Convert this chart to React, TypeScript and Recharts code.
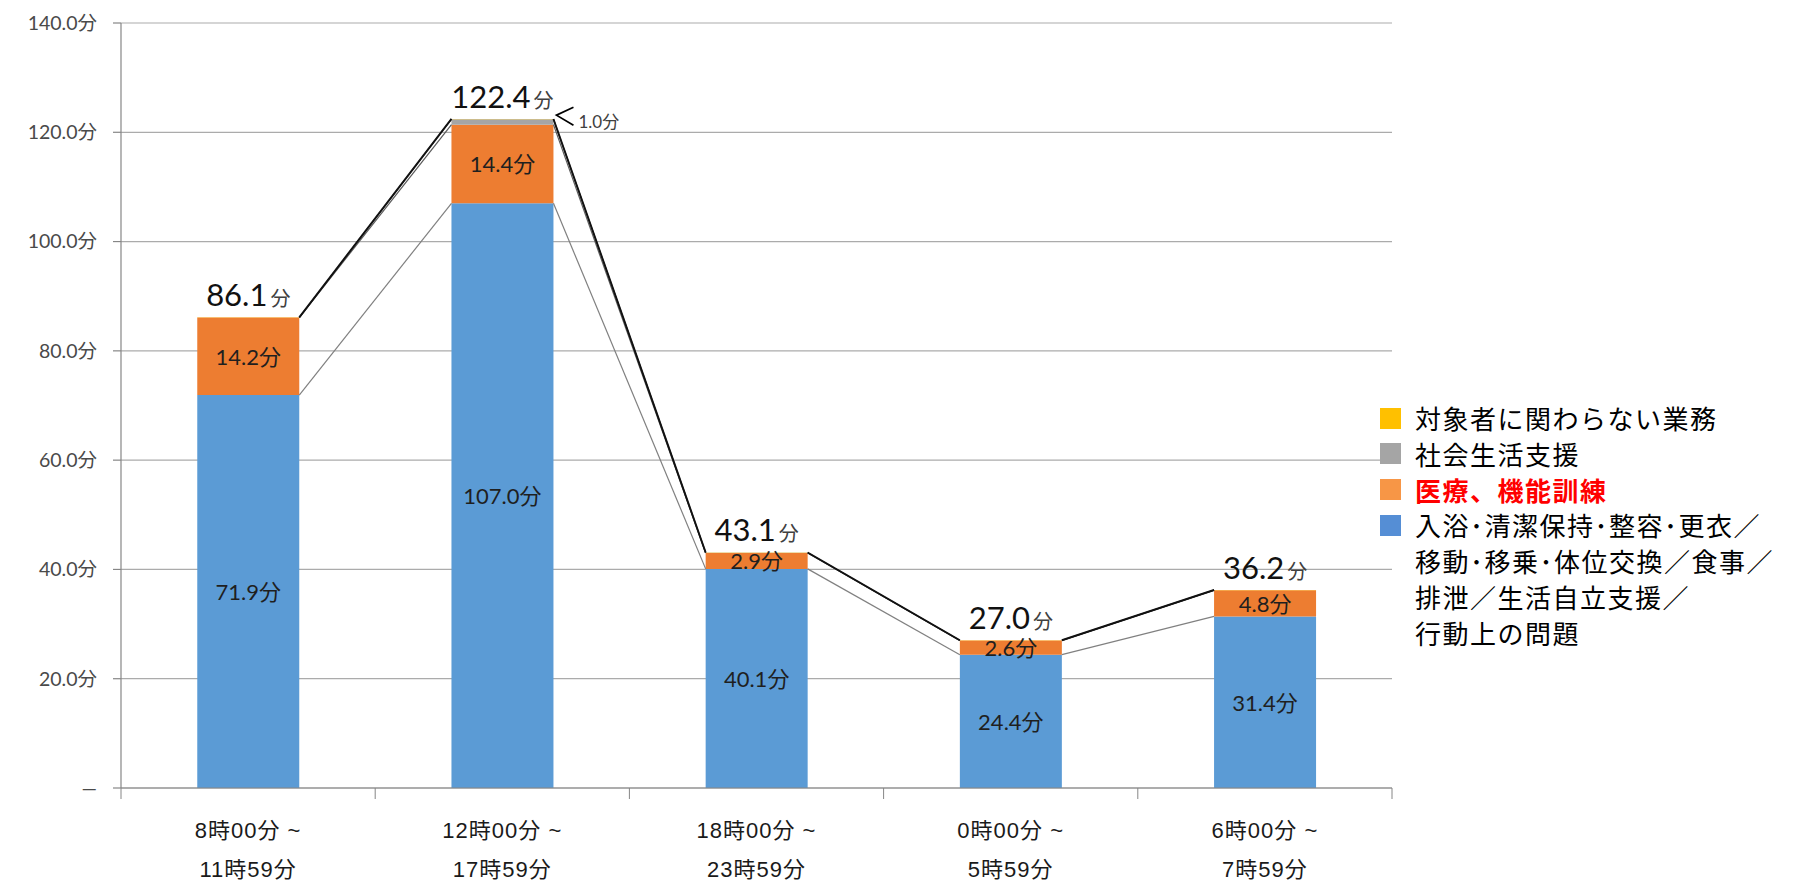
import React from "react";
import {
  BarChart,
  Bar,
  XAxis,
  YAxis,
  CartesianGrid,
  LabelList,
  Rectangle,
} from "recharts";

// time slots (two-line axis labels)
const periodStart = ["8時00分 ~", "12時00分 ~", "18時00分 ~", "0時00分 ~", "6時00分 ~"];
const periodEnd = ["11時59分", "17時59分", "23時59分", "5時59分", "7時59分"];

// minutes per slot, bottom to top of the stack
const careValues = [71.9, 107.0, 40.1, 24.4, 31.4];
const medicalValues = [14.2, 14.4, 2.9, 2.6, 4.8];
const socialValues = [0.0, 1.0, 0.06, 0.0, 0.0];
const otherValues = [0.04, 0.04, 0.04, 0.04, 0.04];

const yTicks = [0, 20, 40, 60, 80, 100, 120, 140];
const Y_MAX = 140;

const legendItems = [
  { label: ["対象者に関わらない業務"], color: "#FFC000" },
  { label: ["社会生活支援"], color: "#A5A5A5" },
  { label: ["医療、機能訓練"], color: "#F79646", strong: true },
  {
    label: [
      "入浴･清潔保持･整容･更衣／",
      "移動･移乗･体位交換／食事／",
      "排泄／生活自立支援／",
      "行動上の問題",
    ],
    color: "#558ED5",
  },
];

const BLUE = "#5B9BD5";
const ORANGE = "#ED7D31";
const GREY = "#A5A5A5";
const YELLOW = "#FFC000";
const AXIS = "#868686";
const GRID = "#ABABAB";
const NUM_FONT = "Lato, 'Noto Sans CJK JP', sans-serif";
const CJK_FONT = "'Noto Sans CJK JP', sans-serif";

const data = periodStart.map((p, i) => ({
  period: p,
  care: careValues[i],
  medical: medicalValues[i],
  social: socialValues[i],
  other: otherValues[i],
}));

// cumulative top of each stacked segment, per slot
const levels = data.map((d) => {
  const a = d.care;
  const b = a + d.medical;
  const c = b + d.social;
  return [a, b, c, c + d.other];
});
const totals = levels.map((l) => l[3]);

const seriesLineStyle = [
  { stroke: "#808080", width: 1.2 },
  { stroke: "#5a5a5a", width: 1.2 },
  { stroke: "#404040", width: 1.3 },
  { stroke: "#111111", width: 1.9 },
];

// edges of the stacks already drawn, so each stack can link back to the previous one
const stackEdges: { left: number; right: number }[] = [];

function TopSegment(props: any) {
  const { x, y, width, height, index, background, fill } = props;
  stackEdges[index] = { left: x, right: x + width };
  const prev = stackEdges[index - 1];
  const plotTop = background?.y ?? 0;
  const plotH = background?.height ?? 0;
  const yOf = (v: number) => plotTop + plotH * (1 - v / Y_MAX);
  return (
    <g>
      <Rectangle x={x} y={y} width={width} height={height} fill={fill} />
      {index > 0 && prev && plotH > 0 &&
        seriesLineStyle.map((s, k) => (
          <line
            key={k}
            x1={prev.right}
            y1={yOf(levels[index - 1][k])}
            x2={x}
            y2={yOf(levels[index][k])}
            stroke={s.stroke}
            strokeWidth={s.width}
          />
        ))}
    </g>
  );
}

function PeriodTick(props: any) {
  const { x, y, index, payload } = props;
  const half = payload?.offset ?? 0;
  const last = index === periodStart.length - 1;
  const textStyle = {
    fontFamily: "'Liberation Sans', 'Noto Sans CJK JP', sans-serif",
    fontSize: 22,
    fill: "#1a1a1a",
    letterSpacing: 1,
  };
  return (
    <g>
      <line x1={x - half} y1={y} x2={x - half} y2={y + 11} stroke={AXIS} />
      {last && <line x1={x + half} y1={y} x2={x + half} y2={y + 11} stroke={AXIS} />}
      <text x={x} y={y + 42} textAnchor="middle" dominantBaseline="central" {...textStyle}>
        {periodStart[index]}
      </text>
      <text x={x} y={y + 81} textAnchor="middle" dominantBaseline="central" {...textStyle}>
        {periodEnd[index]}
      </text>
    </g>
  );
}

function InsideLabel(props: any) {
  const { x, y, width, height, value } = props;
  return (
    <text
      x={x + width / 2}
      y={y + height / 2}
      textAnchor="middle"
      dominantBaseline="central"
      fontFamily={NUM_FONT}
      fontSize={22}
      fill="#1f1f1f"
    >
      {`${Number(value).toFixed(1)}分`}
    </text>
  );
}

function TotalLabel(props: any) {
  const { x, y, width, index } = props;
  return (
    <text x={x + width / 2} y={y - 11} textAnchor="middle" fontFamily={NUM_FONT} fill="#111">
      <tspan fontSize={31}>{totals[index].toFixed(1)}</tspan>
      <tspan fontSize={20} fill="#404040" dx={3}>
        分
      </tspan>
    </text>
  );
}

// small "<" callout for the thin social-support segment
function SocialCallout(props: any) {
  const { x, y, width, value } = props;
  if (!value || value < 0.5) return null;
  const right = x + width;
  return (
    <g>
      <polyline
        points={`${right + 20},${y - 12} ${right + 3},${y - 4} ${right + 20},${y + 6}`}
        fill="none"
        stroke="#000"
        strokeWidth={1.7}
      />
      <text
        x={right + 25}
        y={y + 2}
        dominantBaseline="central"
        fontFamily={NUM_FONT}
        fontSize={17}
        fill="#404040"
      >
        {`${Number(value).toFixed(1)}分`}
      </text>
    </g>
  );
}

function Legend() {
  return (
    <div
      style={{
        position: "absolute",
        left: 1380,
        top: 400,
        fontFamily: CJK_FONT,
        fontSize: 26,
        lineHeight: "35.8px",
        color: "#000",
        letterSpacing: 1.5,
      }}
    >
      {legendItems.map((item) => (
        <div key={item.label[0]} style={{ position: "relative", paddingLeft: 35 }}>
          <span
            style={{
              position: "absolute",
              left: 0,
              top: 7.5,
              width: 21,
              height: 21,
              background: item.color,
            }}
          />
          {item.label.map((line) => (
            <div
              key={line}
              style={{
                color: item.strong ? "#FF0000" : "#000",
                fontWeight: item.strong ? 700 : 400,
                whiteSpace: "nowrap",
              }}
            >
              {line}
            </div>
          ))}
        </div>
      ))}
    </div>
  );
}

export default function App() {
  return (
    <div
      style={{
        position: "absolute",
        left: 0,
        top: 0,
        width: 1796,
        height: 883,
        background: "#fff",
      }}
    >
      <BarChart
        width={1796}
        height={883}
        data={data}
        margin={{ top: 23, right: 404, bottom: 0, left: 0 }}
        barCategoryGap="30%"
      >
        <CartesianGrid vertical={false} stroke={GRID} strokeWidth={1.2} />
        <XAxis
          dataKey="period"
          height={95}
          tickLine={false}
          tickSize={0}
          tickMargin={0}
          axisLine={{ stroke: AXIS, strokeWidth: 1.2 }}
          tick={<PeriodTick />}
          interval={0}
        />
        <YAxis
          width={121}
          domain={[0, Y_MAX]}
          ticks={yTicks}
          interval={0}
          tickSize={8}
          tickMargin={16}
          axisLine={{ stroke: AXIS, strokeWidth: 1.2 }}
          tickLine={{ stroke: AXIS, strokeWidth: 1.2 }}
          tick={{ fill: "#4a4a4a", fontSize: 19.5, fontFamily: NUM_FONT }}
          tickFormatter={(v: number) => (v === 0 ? "—" : `${v.toFixed(1)}分`)}
        />
        <Bar dataKey="care" stackId="t" fill={BLUE} isAnimationActive={false}>
          <LabelList dataKey="care" content={<InsideLabel />} />
        </Bar>
        <Bar dataKey="medical" stackId="t" fill={ORANGE} isAnimationActive={false}>
          <LabelList dataKey="medical" content={<InsideLabel />} />
        </Bar>
        <Bar dataKey="social" stackId="t" fill={GREY} isAnimationActive={false}>
          <LabelList dataKey="social" content={<SocialCallout />} />
        </Bar>
        <Bar
          dataKey="other"
          stackId="t"
          fill={YELLOW}
          shape={<TopSegment />}
          isAnimationActive={false}
        >
          <LabelList dataKey="other" content={<TotalLabel />} />
        </Bar>
      </BarChart>
      <Legend />
    </div>
  );
}
